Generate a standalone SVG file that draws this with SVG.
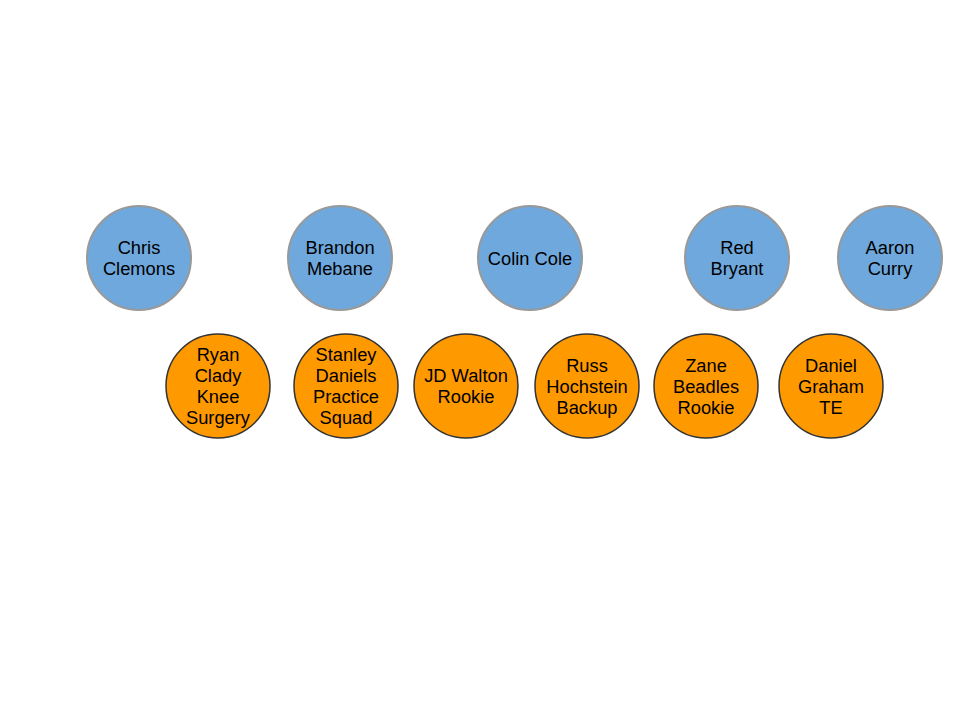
<svg xmlns="http://www.w3.org/2000/svg" width="960" height="720" viewBox="0 0 960 720">
<style>
.b{fill:#6fa8dc;stroke:#999999;stroke-width:2}
.o{fill:#ff9900;stroke:#333333;stroke-width:1.5}
text{font-family:"Liberation Sans",Arial,sans-serif;font-size:18.3px;fill:#000;text-anchor:middle}
</style>
<rect width="960" height="720" fill="#fff"/>
<g id="connectors"></g>
<g id="n1"><circle class="b" cx="139" cy="258" r="52"/><text x="139" y="254">Chris</text><text x="139" y="275">Clemons</text></g>
<g id="n2"><circle class="b" cx="340" cy="258" r="52"/><text x="340" y="254">Brandon</text><text x="340" y="275">Mebane</text></g>
<g id="n3"><circle class="b" cx="530" cy="258" r="52"/><text x="530" y="264.5">Colin Cole</text></g>
<g id="n4"><circle class="b" cx="737" cy="258" r="52"/><text x="737" y="254">Red</text><text x="737" y="275">Bryant</text></g>
<g id="n5"><circle class="b" cx="890" cy="258" r="52"/><text x="890" y="254">Aaron</text><text x="890" y="275">Curry</text></g>
<g id="n6"><circle class="o" cx="218" cy="386" r="52"/><text x="218" y="361">Ryan</text><text x="218" y="382">Clady</text><text x="218" y="403">Knee</text><text x="218" y="424">Surgery</text></g>
<g id="n7"><circle class="o" cx="346" cy="386" r="52"/><text x="346" y="361">Stanley</text><text x="346" y="382">Daniels</text><text x="346" y="403">Practice</text><text x="346" y="424">Squad</text></g>
<g id="n8"><circle class="o" cx="466" cy="386" r="52"/><text x="466" y="382">JD Walton</text><text x="466" y="403">Rookie</text></g>
<g id="n9"><circle class="o" cx="587" cy="386" r="52"/><text x="587" y="371.5">Russ</text><text x="587" y="392.5">Hochstein</text><text x="587" y="413.5">Backup</text></g>
<g id="n10"><circle class="o" cx="706" cy="386" r="52"/><text x="706" y="371.5">Zane</text><text x="706" y="392.5">Beadles</text><text x="706" y="413.5">Rookie</text></g>
<g id="n11"><circle class="o" cx="831" cy="386" r="52"/><text x="831" y="371.5">Daniel</text><text x="831" y="392.5">Graham</text><text x="831" y="413.5">TE</text></g>
</svg>
